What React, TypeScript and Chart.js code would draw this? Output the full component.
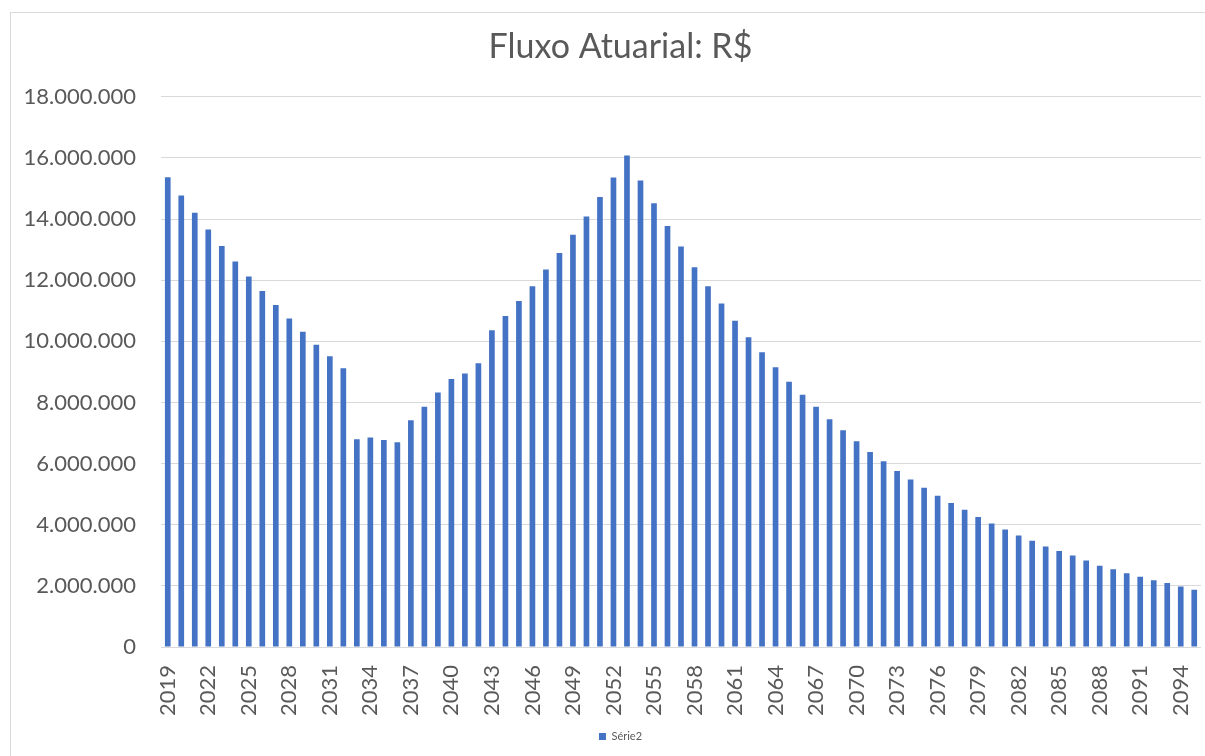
import React, { useEffect, useRef } from "react";
import { Chart, registerables } from "chart.js";

Chart.register(...registerables);

const years: string[] = [];
for (let y = 2019; y <= 2095; y++) years.push(String(y));

const serie2: number[] = [
  15370000, 14770000, 14210000, 13660000, 13120000, 12610000, 12120000, 11650000, 11190000, 10750000,
  10310000, 9890000, 9510000, 9120000, 6800000, 6850000, 6770000, 6700000, 7420000, 7860000,
  8330000, 8770000, 8950000, 9280000, 10360000, 10830000, 11320000, 11800000, 12350000, 12890000,
  13490000, 14080000, 14720000, 15360000, 16080000, 15260000, 14520000, 13770000, 13100000, 12420000,
  11800000, 11240000, 10670000, 10130000, 9640000, 9150000, 8680000, 8250000, 7860000, 7450000,
  7090000, 6730000, 6380000, 6080000, 5760000, 5480000, 5210000, 4950000, 4710000, 4490000,
  4250000, 4040000, 3840000, 3650000, 3480000, 3290000, 3140000, 2990000, 2830000, 2660000,
  2540000, 2410000, 2300000, 2180000, 2090000, 1980000, 1870000,
];

const yTicks: number[] = [0, 2000000, 4000000, 6000000, 8000000, 10000000, 12000000, 14000000, 16000000, 18000000];

const fmt = (v: number) => String(Math.round(v)).replace(/\B(?=(\d{3})+(?!\d))/g, ".");

export default function App() {
  const ref = useRef<HTMLCanvasElement | null>(null);
  useEffect(() => {
    document.body.style.margin = "0";
    const ctx = ref.current!.getContext("2d")!;
    const chart = new Chart(ctx, {
      type: "bar",
      data: {
        labels: years,
        datasets: [
          {
            label: "Série2",
            data: serie2,
            backgroundColor: "#4472C4",
            borderWidth: 0,
            categoryPercentage: 1,
            barPercentage: 0.42,
          },
        ],
      },
      options: {
        animation: false,
        responsive: false,
        maintainAspectRatio: false,
        layout: { padding: { left: 40, right: 4, top: 0, bottom: 4 } },
        plugins: {
          tooltip: { enabled: false },
          title: {
            display: true,
            text: "Fluxo Atuarial: R$",
            color: "#595959",
            font: { family: "Lato", size: 34, weight: "normal" },
            padding: { top: 27, bottom: 29 },
          },
          legend: {
            display: true,
            position: "bottom",
            labels: {
              color: "#595959",
              font: { family: "Lato", size: 11 },
              boxWidth: 7,
              boxHeight: 7,
              padding: 6,
            },
          },
        },
        scales: {
          x: {
            grid: { display: false, drawTicks: false, tickLength: 0 },
            border: { display: false },
            ticks: {
              autoSkip: false,
              minRotation: 90,
              maxRotation: 90,
              padding: 18,
              color: "#595959",
              font: { family: "Lato", size: 22 },
              callback: (_v: any, i: number) => (i % 3 === 0 ? years[i] : ""),
            },
            afterFit: (s: any) => {
              s.height = 78;
              s.paddingLeft = 0;
              s.paddingRight = 0;
            },
          },
          y: {
            min: 0,
            max: 18000000,
            grid: { color: "#d9d9d9", lineWidth: 1, drawTicks: false, tickLength: 0 },
            border: { display: false },
            afterBuildTicks: (s: any) => {
              s.ticks = yTicks.map((v) => ({ value: v }));
            },
            ticks: {
              padding: 25,
              color: "#595959",
              font: { family: "Lato", size: 22 },
              callback: (v: any) => fmt(Number(v)),
            },
            afterFit: (s: any) => {
              s.width = 121;
              s.paddingTop = 0;
              s.paddingBottom = 0;
              s._computeLabelArea = () => undefined;
            },
          },
        },
      },
    });
    return () => chart.destroy();
  }, []);
  return (
    <div style={{ position: "relative", width: 1205, height: 756 }}>
      <div
        style={{
          position: "absolute",
          left: 10,
          top: 12,
          width: 1200,
          height: 750,
          border: "1px solid #d9d9d9",
          boxSizing: "border-box",
        }}
      />
      <canvas
        ref={ref}
        width={1205}
        height={756}
        style={{ position: "absolute", left: 0, top: 0, width: 1205, height: 756 }}
      />
    </div>
  );
}
